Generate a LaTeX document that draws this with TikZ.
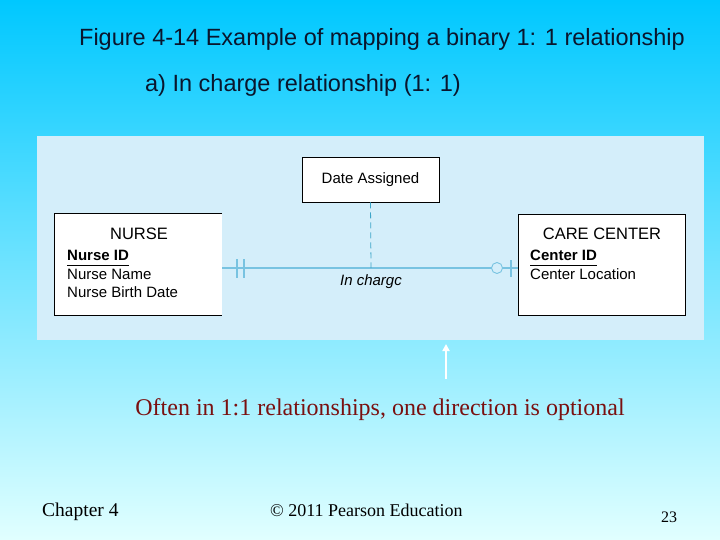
\documentclass[tikz,border=0pt]{standalone}
\usepackage{fontspec}
\setmainfont{Liberation Serif}
\setsansfont{Liberation Sans}
\usetikzlibrary{positioning,arrows.meta}
\definecolor{skytop}{RGB}{0,200,255}
\definecolor{skymid}{RGB}{150,225,255}
\definecolor{skybot}{RGB}{225,255,255}
\definecolor{panelblue}{RGB}{212,238,250}
\definecolor{titleink}{RGB}{10,22,45}
\definecolor{relblue}{RGB}{120,195,225}
\definecolor{dashteal}{RGB}{60,165,200}
\definecolor{noteink}{RGB}{122,16,16}

\begin{document}
\begin{tikzpicture}[
        x=1pt, y=-1pt,
        >=Stealth,
        heading/.style={font=\sffamily\fontsize{23.5}{28}\selectfont, text=titleink},
        entity/.style={fill=white, minimum width=167pt, minimum height=101pt, inner sep=0pt},
        etitle/.style={font=\sffamily\fontsize{16.5}{19}\selectfont, anchor=base, inner sep=0pt},
        keyattr/.style={font=\sffamily\bfseries\fontsize{15}{18}\selectfont, anchor=base west, inner sep=0pt},
        attr/.style={font=\sffamily\fontsize{15}{18}\selectfont, anchor=base west, inner sep=0pt},
        relline/.style={draw=relblue, line width=1.1pt},
        footer/.style={font=\fontsize{18}{21}\selectfont, anchor=base west, inner sep=0pt},
    ]

    % background
    \shade[top color=skytop, middle color=skymid, bottom color=skybot] (0,0) rectangle (720,540);
    \useasboundingbox (0,0) rectangle (720,540);

    % headings
    \node[heading] (title) at (382,39) {Figure 4-14 Example of mapping a binary 1: 1 relationship};
    \node[heading] (subtitle) at (303,85) {a) In charge relationship (1: 1)};

    % panel
    \fill[panelblue] (37,136) rectangle (704,340);

    % entities
    \node[entity] (nurse) at (138.5,264.5) {};
    \draw[line width=0.8pt] (nurse.north east) -- (nurse.north west) -- (nurse.south west) -- (nurse.south east);
    \node[entity, draw, line width=0.8pt] (care) at (601.5,264.5) {};
    \node[draw, fill=white, line width=0.8pt, minimum width=137pt, minimum height=45pt,
          font=\sffamily\fontsize{15}{18}\selectfont] (date) at (370.5,179.5) {Date Assigned};

    % NURSE attributes
    \node[etitle] (nursetitle) at (139,240) {NURSE};
    \node[keyattr] (nurseid) at (67,260) {Nurse ID};
    \draw[line width=0.7pt] ([yshift=-5.5pt]nurseid.base west) -- ([yshift=-5.5pt]nurseid.base east);
    \node[attr] (nursename) at (67,279) {Nurse Name};
    \node[attr] (nursebirth) at (67,297) {Nurse Birth Date};

    % CARE CENTER attributes
    \node[etitle] (caretitle) at (602,240) {CARE CENTER};
    \node[keyattr] (centerid) at (530,260) {Center ID};
    \draw[line width=0.7pt] ([yshift=-5.5pt]centerid.base west) -- ([yshift=-5.5pt]centerid.base east);
    \node[attr] (centerloc) at (530,279) {Center Location};

    % relationship
    \coordinate (rel) at (371,268);
    \draw[relline] (nurse.east |- rel) -- (care.west |- rel);
    \draw[draw=dashteal, line width=0.8pt, dash pattern=on 6pt off 4pt] (date.south) -- (rel);
    \node[font=\sffamily\itshape\fontsize{15}{18}\selectfont, anchor=base] (rellabel) at (371,285) {In chargc};

    % cardinality marks
    \coordinate (bara) at (237,268);
    \coordinate (barb) at (244,268);
    \coordinate (barc) at (511,268);
    \draw[relline] ([yshift=-9.5pt]bara) -- ([yshift=9.5pt]bara);
    \draw[relline] ([yshift=-9.5pt]barb) -- ([yshift=9.5pt]barb);
    \draw[relline] ([yshift=-8.5pt]barc) -- ([yshift=8.5pt]barc);
    \node[circle, draw=relblue, line width=0.9pt, fill=panelblue, minimum size=11pt, inner sep=0pt] (optcirc) at (497,268) {};

    % pointer
    \coordinate (ptail) at (446,379);
    \coordinate (phead) at (446,344);
    \draw[white, line width=2pt, -{Triangle[width=7pt,length=7pt]}] (ptail) -- (phead);

    % note
    \node[font=\fontsize{24}{28}\selectfont, text=noteink] (note) at (380,410) {Often in 1:1 relationships, one direction is optional};

    % footer
    \node[footer, font=\fontsize{19.5}{22}\selectfont] (chapter) at (42,516) {Chapter 4};
    \node[footer] (copyright) at (270,516) {© 2011 Pearson Education};
    \node[footer, font=\fontsize{16}{18}\selectfont] (pagenum) at (661,522) {23};

\end{tikzpicture}
\end{document}
